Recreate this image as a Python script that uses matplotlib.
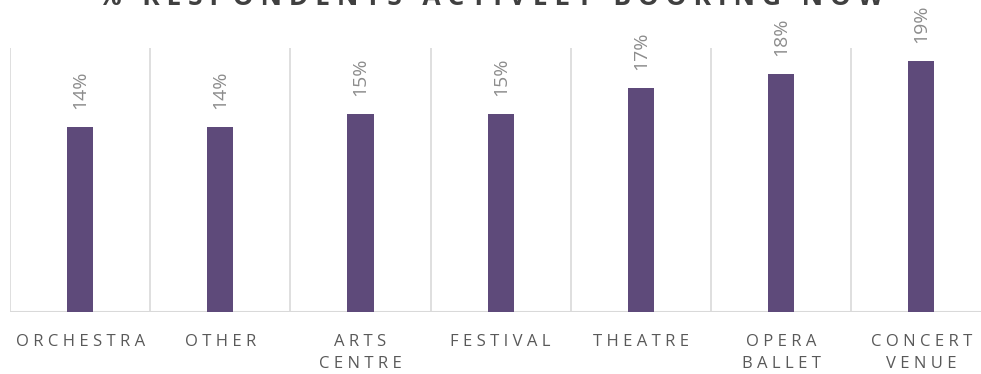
import matplotlib
matplotlib.use("Agg")
import matplotlib.pyplot as plt
import numpy as np

categories = ["ORCHESTRA", "OTHER", "ARTS\nCENTRE", "FESTIVAL", "THEATRE", "OPERA\nBALLET", "CONCERT\nVENUE"]
values = [14, 14, 15, 15, 17, 18, 19]
title = "% RESPONDENTS ACTIVELY BOOKING NOW"

bar_color = "#5e4a7a"
grid_color = "#d9d9d9"
label_color = "#595959"
value_color = "#8c8c8c"

plt.rcParams["font.family"] = ["Open Sans", "DejaVu Sans"]


def spaced(text, gap=" "):
    return "\n".join(gap.join(line) for line in text.split("\n"))


W, H = 981, 374
fig = plt.figure(figsize=(W / 100, H / 100), dpi=100)
ax = fig.add_axes([10 / W, 62 / H, 981.5 / W, 264 / H])

x = np.arange(len(categories))
ax.bar(x, values, width=0.186, color=bar_color, zorder=3)

ax.set_xlim(-0.5, len(categories) - 0.5)
ax.set_ylim(0, 20)

for xb in np.arange(len(categories) + 1) - 0.5:
    ax.axvline(xb, color=grid_color, lw=1.2, zorder=1)
for s in ax.spines.values():
    s.set_visible(False)
ax.axhline(0, color=grid_color, lw=1.5, zorder=2)

ax.set_yticks([])
ax.set_xticks(x)
ax.set_xticklabels([spaced(c) for c in categories], color=label_color,
                   fontsize=12, linespacing=1.45)
ax.tick_params(axis="x", length=0, pad=16)

for xi, v in zip(x, values):
    ax.annotate(f"{v}%", (xi, v), xytext=(0, 13), textcoords="offset points",
                rotation=90, ha="center", va="bottom", color=value_color, fontsize=14)

fig.text(0.5, 1 - 5 / H, spaced(title, " "), ha="center", va="baseline",
         fontsize=19, fontweight="bold", color="#404040")

fig.savefig("out.png", dpi=100)
